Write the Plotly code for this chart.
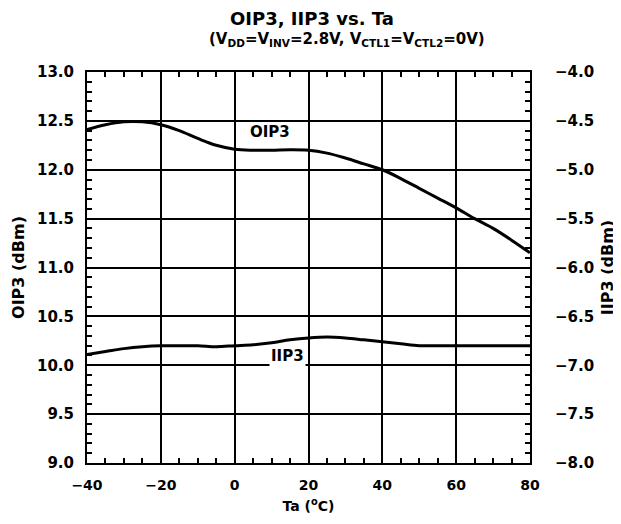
import plotly.graph_objects as go

ta = [-40, -35, -30, -25, -20, -15, -10, -5, 0, 5, 10, 15, 20, 25, 30,
      35, 40, 45, 50, 55, 60, 65, 70, 75, 80]
oip3 = [12.41, 12.46, 12.49, 12.49, 12.46, 12.40, 12.32, 12.25, 12.21, 12.20,
        12.20, 12.205, 12.20, 12.17, 12.12, 12.06, 12.00, 11.91, 11.81, 11.71,
        11.61, 11.50, 11.40, 11.28, 11.15]
iip3 = [-6.89, -6.86, -6.83, -6.81, -6.80, -6.80, -6.80, -6.81, -6.80, -6.79,
        -6.77, -6.74, -6.72, -6.71, -6.72, -6.74, -6.76, -6.78, -6.80, -6.80,
        -6.80, -6.80, -6.80, -6.80, -6.80]

font = "DejaVu Sans"
tickfont = dict(family=font, size=15, color="black", weight="bold")
minor_ticks = dict(ticks="inside", ticklen=5, tickcolor="black", tickwidth=1.5, showgrid=False)

fig = go.Figure()
fig.add_trace(go.Scatter(x=ta, y=oip3, mode="lines", showlegend=False,
                         line=dict(color="black", width=3, shape="spline")))
fig.add_trace(go.Scatter(x=ta, y=iip3, mode="lines", yaxis="y2", showlegend=False,
                         line=dict(color="black", width=3, shape="spline")))

fig.update_layout(
    width=609, height=506,
    margin=dict(l=79, r=87, t=64, b=51, autoexpand=False),
    paper_bgcolor="white", plot_bgcolor="white",
    font=dict(family=font, color="black"),
    xaxis=dict(range=[-40, 80], dtick=20, tick0=-40, mirror="ticks", tickformat="d",
               showline=True, linecolor="black", linewidth=2, showgrid=True,
               gridcolor="black", gridwidth=2, ticks="inside", ticklen=0, zeroline=False,
               tickfont=dict(family=font, size=14, color="black", weight="bold"),
               ticklabelstandoff=8, minor=dict(dtick=5, **minor_ticks),
               title=dict(text="Ta (<sup>o</sup>C)", standoff=11,
                          font=dict(family=font, size=14, weight="bold"))),
    yaxis=dict(range=[9, 13], dtick=0.5, tick0=9, mirror="ticks", tickformat=".1f",
               showline=True, linecolor="black", linewidth=2, showgrid=True,
               gridcolor="black", gridwidth=2, ticks="inside", ticklen=0, zeroline=False,
               tickfont=tickfont, ticklabelstandoff=8, minor=dict(dtick=0.1, **minor_ticks),
               title=dict(text="OIP3 (dBm)", standoff=8,
                          font=dict(family=font, size=16, weight="bold"))),
    yaxis2=dict(range=[-8, -4], dtick=0.5, tick0=-8, overlaying="y", side="right",
                tickformat=".1f", showline=True, linecolor="black", linewidth=2,
                showgrid=False, zeroline=False, ticks="inside", ticklen=0,
                tickfont=tickfont, ticklabelstandoff=20, minor=dict(dtick=0.1, **minor_ticks),
                title=dict(text="IIP3 (dBm)", standoff=10,
                           font=dict(family=font, size=16, weight="bold"))),
    annotations=[
        dict(text="<b>OIP3, IIP3 vs. Ta</b>", x=0.508, y=1.137, xref="paper", yref="paper",
             showarrow=False, font=dict(size=18), yanchor="middle"),
        dict(text="<b>(V<sub>DD</sub>=V<sub>INV</sub>=2.8V, V<sub>CTL1</sub>=V<sub>CTL2</sub>=0V)</b>",
             x=0.587, y=1.083, xref="paper", yref="paper", showarrow=False,
             font=dict(size=15), yanchor="middle"),
        dict(text="<b>OIP3</b>", x=9.6, y=12.39, xref="x", yref="y", showarrow=False,
             font=dict(size=15)),
        dict(text="<b>IIP3</b>", x=14.2, y=10.097, xref="x", yref="y", showarrow=False,
             font=dict(size=15), bgcolor="white"),
    ],
)

fig.write_html("out.html")
